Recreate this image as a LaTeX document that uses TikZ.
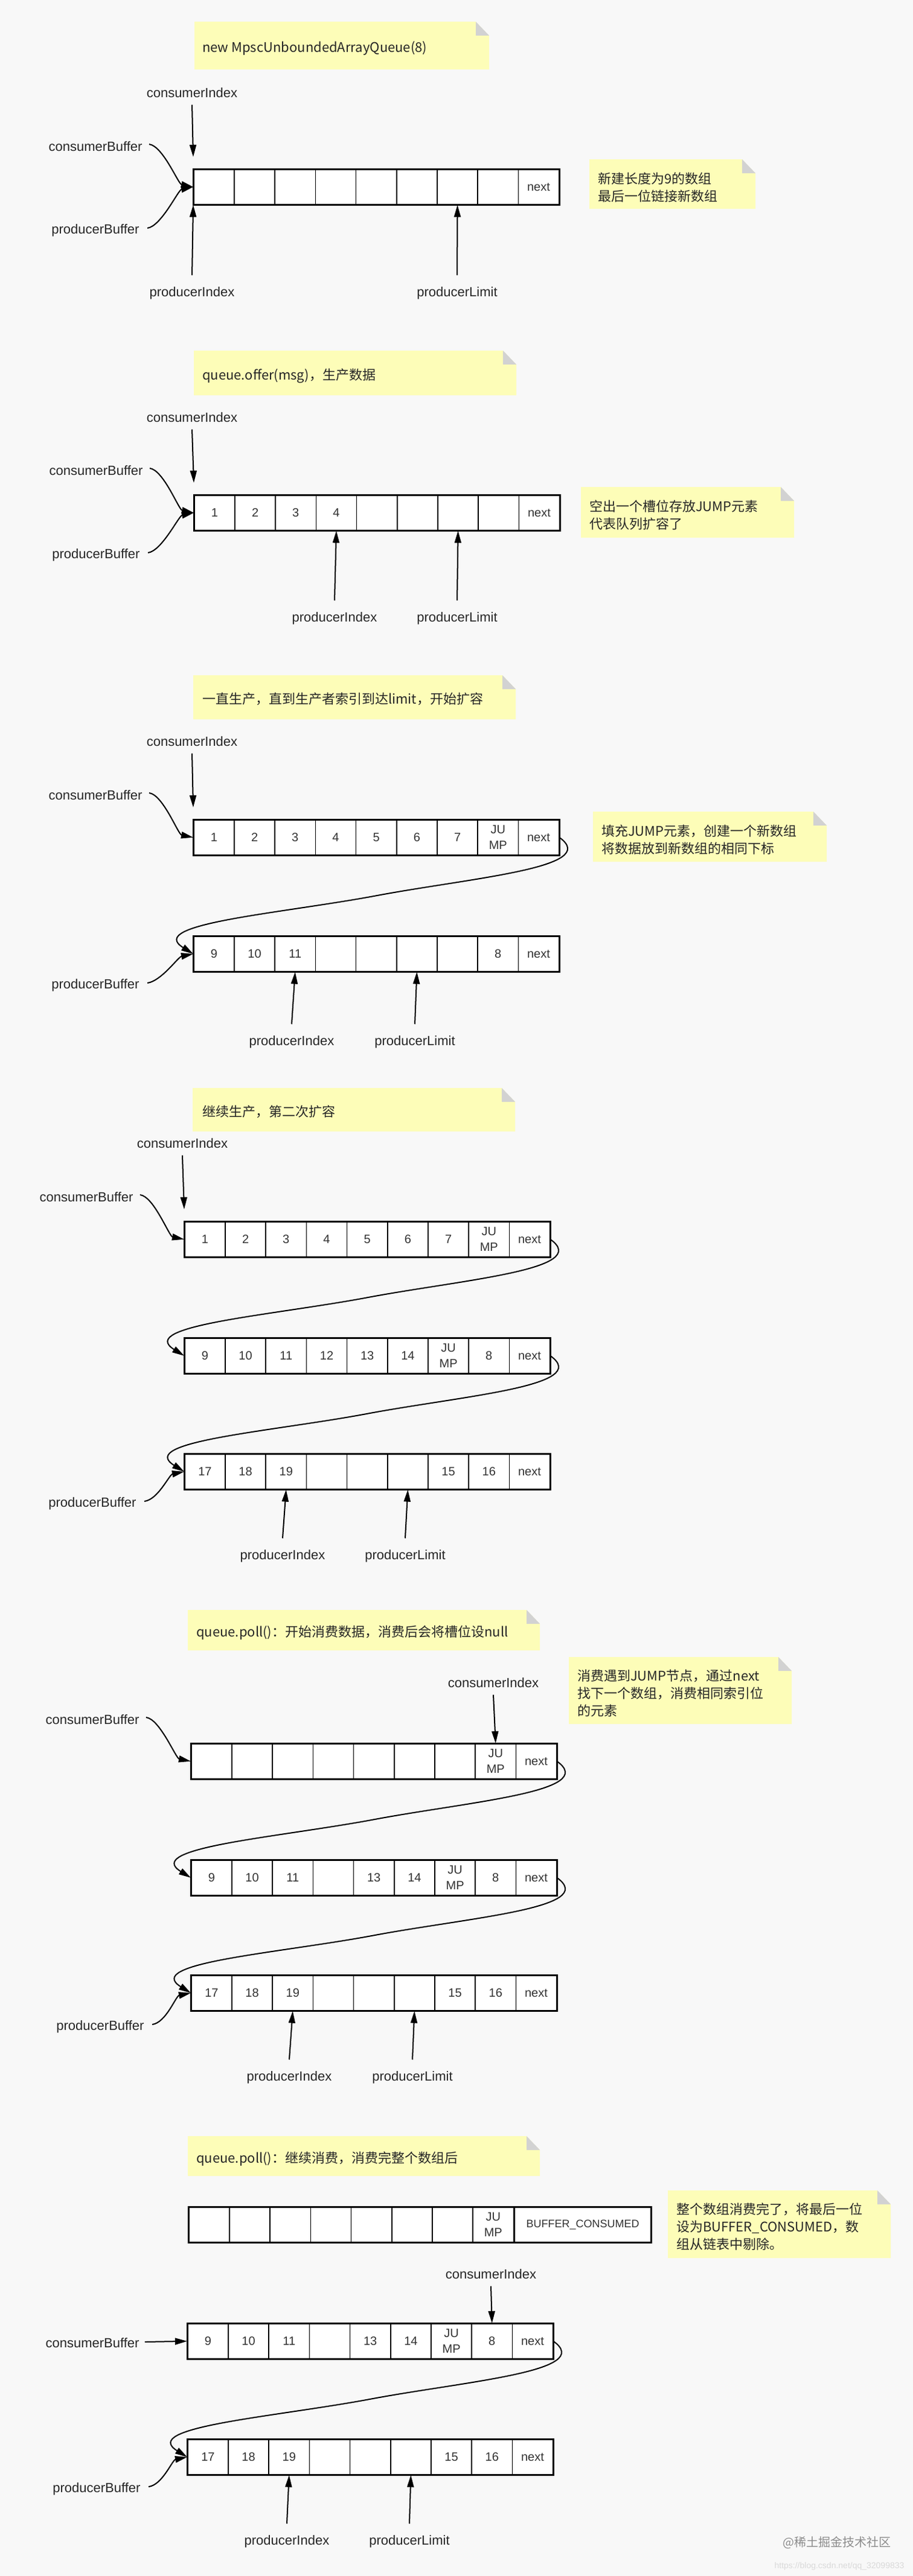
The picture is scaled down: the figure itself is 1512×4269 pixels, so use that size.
\documentclass[tikz,border=0pt]{standalone}
\usepackage{fontspec}
\setmainfont{Liberation Sans}
\newfontfamily\cjk{Noto Sans CJK SC}
\usetikzlibrary{arrows.meta,calc}
\definecolor{bgc}{HTML}{F8F8F8}
\definecolor{notec}{HTML}{FDFDB8}
\definecolor{foldc}{HTML}{D2D2D2}
\tikzset{
  x=1pt,y=-1pt,
  lbl/.style={font=\fontsize{22}{26}\selectfont,text=black!85},
  cell/.style={draw,line width=1.6pt,fill=white,minimum width=67.2pt,minimum height=58pt,inner sep=0pt,align=center,font=\fontsize{20}{26}\selectfont,text=black!80},
  arr/.style={line width=2pt,-{Triangle[length=20pt,width=11pt]}},
  ntext/.style={anchor=west,align=left,font=\cjk\fontsize{22}{29}\selectfont,text=black!85,inner sep=0pt},
}
\newcommand\qarray[5]{%
  \foreach \c [count=\i from 0] in {#4} {
    \node[cell,anchor=north west] (#1-\i) at ({#2+\i*67.2},{#3}) {\c};
  }
  \draw[line width=3pt] (#1-0.north west) rectangle (#1-#5.south east);
}
\newcommand\qnote[4]{%
  \fill[notec] (#1,#2) -- ({#3-22},#2) -- (#3,{#2+23}) -- (#3,#4) -- (#1,#4) -- cycle;
  \fill[foldc] ({#3-22},#2) -- (#3,{#2+23}) -- ({#3-22},{#2+23}) -- cycle;
}
\newcommand\qlink[2]{%
  \draw[arr] (#1.east) .. controls +(70,50) and +(160,-30) .. ($(#1.east)!0.5!(#2.west)$) .. controls +(-160,30) and +(-80,-50) .. (#2.west);
}
\begin{document}
\begin{tikzpicture}
\fill[bgc] (0,0) rectangle (1512,4269);
\useasboundingbox (0,0) rectangle (1512,4269);

% ---------- Section 1
\qnote{322}{36}{810}{115}
\node[ntext] (n1) at (335,80) {new MpscUnboundedArrayQueue(8)};
\qarray{a}{320}{280}{{},{},{},{},{},{},{},{},next}{8}
\node[lbl] (ci1) at (318,154) {consumerIndex};
\node[lbl] (cb1) at (158,243) {consumerBuffer};
\node[lbl] (pb1) at (158,382) {producerBuffer};
\node[lbl] (pi1) at (318,486) {producerIndex};
\node[lbl] (pl1) at (757,486) {producerLimit};
\draw[arr] ([yshift=-8pt]ci1.south) -- ([yshift=20pt]a-0.north west);
\draw[arr] ([xshift=8pt,yshift=4pt]cb1.east) .. controls +(23,3) and +(-25,-5) .. (a-0.west);
\draw[arr] ([xshift=10pt,yshift=4pt]pb1.east) .. controls +(23,-3) and +(-25,5) .. (a-0.west);
\draw[arr] ([yshift=16pt]pi1.north) -- (a-0.south west);
\draw[arr] ([yshift=16pt]pl1.north) -- (a-6.south);
\qnote{976}{264}{1251}{346}
\node[ntext] (r1) at (990,311) {新建长度为9的数组\\最后一位链接新数组};

% ---------- Section 2
\qnote{321}{581}{855}{655}
\node[ntext] (n2) at (335,623) {queue.offer(msg)，生产数据};
\qarray{b}{321}{820}{1,2,3,4,{},{},{},{},next}{8}
\node[lbl] (ci2) at (318,692) {consumerIndex};
\node[lbl] (cb2) at (159,780) {consumerBuffer};
\node[lbl] (pb2) at (159,920) {producerBuffer};
\node[lbl] (pi2) at (554,1025) {producerIndex};
\node[lbl] (pl2) at (757,1025) {producerLimit};
\draw[arr] ([yshift=-8pt]ci2.south) -- ([yshift=20pt]b-0.north west);
\draw[arr] ([xshift=8pt,yshift=4pt]cb2.east) .. controls +(23,3) and +(-25,-5) .. (b-0.west);
\draw[arr] ([xshift=10pt,yshift=4pt]pb2.east) .. controls +(23,-3) and +(-25,5) .. (b-0.west);
\draw[arr] ([yshift=16pt]pi2.north) -- (b-3.south);
\draw[arr] ([yshift=16pt]pl2.north) -- (b-6.south);
\qnote{962}{807}{1315}{891}
\node[ntext] (r2) at (976,854) {空出一个槽位存放JUMP元素\\代表队列扩容了};

% ---------- Section 3
\qnote{320}{1119}{854}{1192}
\node[ntext] (n3) at (335,1158) {一直生产，直到生产者索引到达limit，开始扩容};
\qarray{c}{320}{1358}{1,2,3,4,5,6,7,{JU\\MP},next}{8}
\qarray{d}{320}{1551}{9,10,11,{},{},{},{},8,next}{8}
\node[lbl] (ci3) at (318,1229) {consumerIndex};
\node[lbl] (cb3) at (158,1318) {consumerBuffer};
\node[lbl] (pb3) at (158,1633) {producerBuffer};
\node[lbl] (pi3) at (483,1727) {producerIndex};
\node[lbl] (pl3) at (687,1727) {producerLimit};
\draw[arr] ([yshift=-8pt]ci3.south) -- ([yshift=20pt]c-0.north west);
\draw[arr] ([xshift=8pt,yshift=4pt]cb3.east) .. controls +(23,3) and +(-25,-5) .. (c-0.west);
\qlink{c-8}{d-0}
\draw[arr] ([xshift=10pt,yshift=4pt]pb3.east) .. controls +(23,-3) and +(-25,5) .. (d-0.west);
\draw[arr] ([yshift=16pt]pi3.north) -- (d-2.south);
\draw[arr] ([yshift=16pt]pl3.north) -- (d-5.south);
\qnote{982}{1345}{1369}{1428}
\node[ntext] (r3) at (996,1392) {填充JUMP元素，创建一个新数组\\将数据放到新数组的相同下标};

% ---------- Section 4
\qnote{319}{1803}{853}{1875}
\node[ntext] (n4) at (335,1842) {继续生产，第二次扩容};
\qarray{e}{305}{2024}{1,2,3,4,5,6,7,{JU\\MP},next}{8}
\qarray{f}{305}{2217}{9,10,11,12,13,14,{JU\\MP},8,next}{8}
\qarray{g}{305}{2409}{17,18,19,{},{},{},15,16,next}{8}
\node[lbl] (ci4) at (302,1895) {consumerIndex};
\node[lbl] (cb4) at (143,1984) {consumerBuffer};
\node[lbl] (pb4) at (153,2492) {producerBuffer};
\node[lbl] (pi4) at (468,2579) {producerIndex};
\node[lbl] (pl4) at (671,2579) {producerLimit};
\draw[arr] ([yshift=-8pt]ci4.south) -- ([yshift=20pt]e-0.north west);
\draw[arr] ([xshift=8pt,yshift=4pt]cb4.east) .. controls +(23,3) and +(-25,-5) .. (e-0.west);
\qlink{e-8}{f-0}
\qlink{f-8}{g-0}
\draw[arr] ([xshift=10pt,yshift=4pt]pb4.east) .. controls +(23,-3) and +(-25,5) .. (g-0.west);
\draw[arr] ([yshift=16pt]pi4.north) -- (g-2.south);
\draw[arr] ([yshift=16pt]pl4.north) -- (g-5.south);

% ---------- Section 5
\qnote{311}{2668}{894}{2735}
\node[ntext] (n5) at (325,2706) {queue.poll()：开始消费数据，消费后会将槽位设null};
\qarray{h}{316}{2889}{{},{},{},{},{},{},{},{JU\\MP},next}{8}
\qarray{k}{316}{3082}{9,10,11,{},13,14,{JU\\MP},8,next}{8}
\qarray{m}{316}{3273}{17,18,19,{},{},{},15,16,next}{8}
\node[lbl] (ci5) at (817,2789) {consumerIndex};
\node[lbl] (cb5) at (153,2850) {consumerBuffer};
\node[lbl] (pb5) at (166,3359) {producerBuffer};
\node[lbl] (pi5) at (479,3443) {producerIndex};
\node[lbl] (pl5) at (683,3443) {producerLimit};
\draw[arr] ([yshift=-8pt]ci5.south) -- (h-7.north);
\draw[arr] ([xshift=8pt,yshift=4pt]cb5.east) .. controls +(23,3) and +(-25,-5) .. (h-0.west);
\qlink{h-8}{k-0}
\qlink{k-8}{m-0}
\draw[arr] ([xshift=10pt,yshift=4pt]pb5.east) .. controls +(23,-3) and +(-25,5) .. (m-0.west);
\draw[arr] ([yshift=16pt]pi5.north) -- (m-2.south);
\draw[arr] ([yshift=16pt]pl5.north) -- (m-5.south);
\qnote{942}{2746}{1311}{2857}
\node[ntext] (r5) at (956,2806) {消费遇到JUMP节点，通过next\\找下一个数组，消费相同索引位\\的元素};

% ---------- Section 6
\qnote{311}{3540}{894}{3606}
\node[ntext] (n6) at (325,3578) {queue.poll()：继续消费，消费完整个数组后};
\qarray{p}{312}{3657}{{},{},{},{},{},{},{},{JU\\MP}}{7}
\node[cell,anchor=north west,minimum width=226pt,font=\fontsize{18}{22}\selectfont] (bc) at (p-7.north east) {BUFFER\_CONSUMED};
\draw[line width=3pt] (p-0.north west) rectangle (bc.south east);
\qnote{1106}{3630}{1475}{3742}
\node[ntext] (r6) at (1120,3690) {整个数组消费完了，将最后一位\\设为BUFFER\_CONSUMED，数\\组从链表中剔除。};
\qarray{q}{310}{3850}{9,10,11,{},13,14,{JU\\MP},8,next}{8}
\qarray{s}{310}{4042}{17,18,19,{},{},{},15,16,next}{8}
\node[lbl] (ci6) at (813,3769) {consumerIndex};
\node[lbl] (cb6) at (153,3883) {consumerBuffer};
\node[lbl] (pb6) at (160,4125) {producerBuffer};
\node[lbl] (pi6) at (475,4212) {producerIndex};
\node[lbl] (pl6) at (678,4212) {producerLimit};
\draw[arr] ([yshift=-8pt]ci6.south) -- (q-7.north);
\draw[arr] ([xshift=6pt,yshift=2pt]cb6.east) -- (q-0.west);
\qlink{q-8}{s-0}
\draw[arr] ([xshift=10pt,yshift=4pt]pb6.east) .. controls +(23,-3) and +(-25,5) .. (s-0.west);
\draw[arr] ([yshift=16pt]pi6.north) -- (s-2.south);
\draw[arr] ([yshift=16pt]pl6.north) -- (s-5.south);

\node[font=\cjk\fontsize{20}{24}\selectfont,text=black!45] (wm) at (1386,4214) {@稀土掘金技术社区};
\node[font=\fontsize{14}{16}\selectfont,text=black!15] (url) at (1390,4253) {https://blog.csdn.net/qq\_32099833};
\end{tikzpicture}
\end{document}
